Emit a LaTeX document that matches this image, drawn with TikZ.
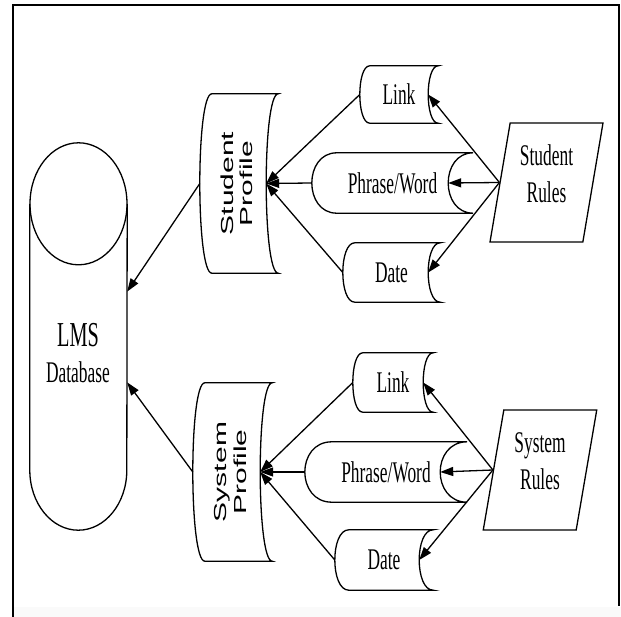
\documentclass[tikz,border=0pt]{standalone}
\usepackage{fontspec}
\setmainfont[FakeStretch=0.58]{Liberation Serif}
\setsansfont{Liberation Sans}
\usepackage{graphicx}
\usepackage{tikz}
\usetikzlibrary{arrows.meta,shapes.geometric,calc}

\newcommand{\proftext}[2]{\rotatebox{90}{\scalebox{1}[0.58]{\sffamily\fontsize{30}{34}\selectfont\begin{tabular}{@{}c@{}}#1\\#2\end{tabular}}}}

\begin{document}
\begin{tikzpicture}[
			x=1pt, y=-1pt,
			every node/.style={inner sep=0pt},
			txt/.style={font=\fontsize{30}{36}\selectfont},
			stored/.style={txt, minimum height=59pt},
			profile/.style={minimum width=78pt, minimum height=179pt},
			rules/.style={trapezium, draw, line width=1.3pt, trapezium left angle=79, trapezium right angle=101,
					trapezium stretches=true, minimum width=113pt, minimum height=119pt,
					align=center, font=\fontsize{30}{37}\selectfont, text depth=18pt},
			arr/.style={-{Triangle[length=13pt,width=9pt]}, line width=1.3pt}
		]
		\useasboundingbox (0,0) rectangle (621,617);
		\fill[black!2] (14,607) rectangle (621,617);
		\draw[line width=1.6pt] (13,617) -- (13,5) -- (619,5) -- (619,606);

		% database
		\node[minimum width=97pt, minimum height=266pt] (db) at (78.5,337) {};
		\draw[line width=1.3pt] (db.north) ellipse [x radius=48.5pt, y radius=61pt];
		\draw[line width=1.3pt] (db.north west) -- (db.south west)
			arc [start angle=180, end angle=360, x radius=48.5pt, y radius=60pt] -- (db.north east);
		\node[txt, align=center] (lms) at (78,353) {{\fontsize{35}{36}\selectfont LMS}\\Database};

		% student side
		\node[profile] (sprof) at (239,183.5) {\proftext{Student}{Profile}};
		\node[stored, minimum width=78pt, minimum height=57pt] (slink) at (399,94.5) {Link};
		\node[stored, minimum width=161pt, minimum height=60pt] (sphrase) at (392.5,183) {Phrase/Word};
		\node[stored, minimum width=97pt] (sdate) at (391.5,272.5) {Date};
		\node[rules] (srules) at (546.5,182.5) {Student\\Rules};

		% system side
		\node[profile, minimum width=79pt, minimum height=178pt] (yprof) at (232.5,472) {\proftext{System}{Profile}};
		\node[stored, minimum width=80pt] (ylink) at (393,382.5) {Link};
		\node[stored, minimum width=162pt, minimum height=60pt] (yphrase) at (386,472) {Phrase/Word};
		\node[stored, minimum width=98pt, minimum height=60pt] (ydate) at (384,560) {Date};
		\node[rules, minimum width=114pt, minimum height=120pt] (yrules) at (540,470) {System\\Rules};

		\foreach \n/\b in {slink/10, sphrase/25, sdate/12, sprof/12, ylink/10, yphrase/27, ydate/14, yprof/12}
			\draw[line width=1.3pt] ([xshift=\b]\n.north west) -- (\n.north east)
				.. controls ([xshift=-4*\b/3]\n.north east) and ([xshift=-4*\b/3]\n.south east) .. (\n.south east)
				-- ([xshift=\b]\n.south west)
				.. controls ([xshift=-\b/3]\n.south west) and ([xshift=-\b/3]\n.north west) .. ([xshift=\b]\n.north west)
				-- cycle;

		% connectors
		\draw[arr] (srules.west) -- ([xshift=-10]slink.east);
		\draw[arr] (srules.west) -- ([xshift=-25]sphrase.east);
		\draw[arr] (srules.west) -- ([xshift=-12]sdate.east);
		\draw[arr] (slink.west) -- ([xshift=-12]sprof.east);
		\draw[arr] (sphrase.west) -- ([xshift=-12]sprof.east);
		\draw[arr] (sdate.west) -- ([xshift=-12]sprof.east);
		\draw[arr] (sprof.west) -- (db.43);

		\draw[arr] (yrules.west) -- ([xshift=-10]ylink.east);
		\draw[arr] (yrules.west) -- ([xshift=-27]yphrase.east);
		\draw[arr] (yrules.west) -- ([xshift=-14]ydate.east);
		\draw[arr] (ylink.west) -- ([xshift=-12]yprof.east);
		\draw[arr] (yphrase.west) -- ([xshift=-12]yprof.east);
		\draw[arr] (ydate.west) -- ([xshift=-12]yprof.east);
		\draw[arr] (yprof.west) -- (db.-43);
	\end{tikzpicture}
\end{document}
